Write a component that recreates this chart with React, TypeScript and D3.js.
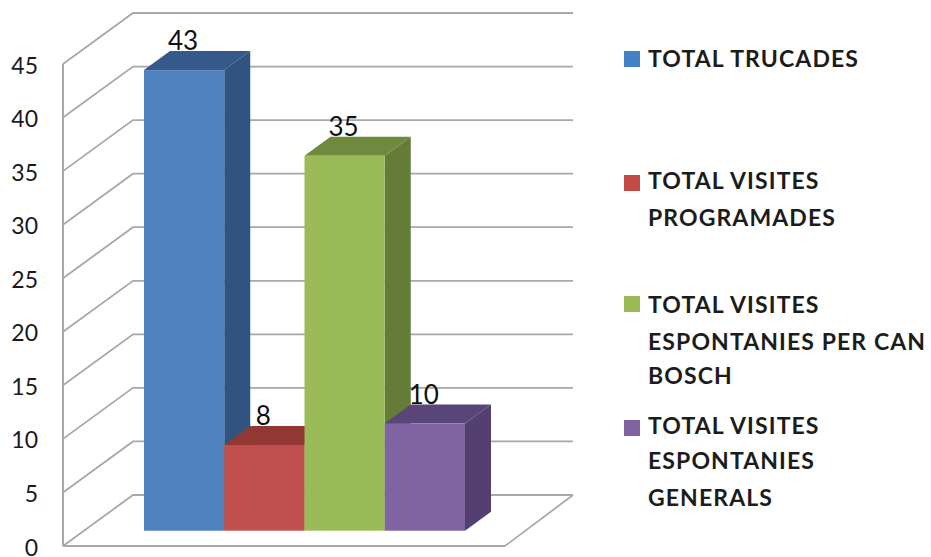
import React from "react";
import * as d3 from "d3";

// Visit counts per category
const categories = ["TOTAL TRUCADES", "TOTAL VISITES PROGRAMADES", "TOTAL VISITES ESPONTANIES PER CAN BOSCH", "TOTAL VISITES ESPONTANIES GENERALS"];
const values = [43, 8, 35, 10];
const ticks = [0, 5, 10, 15, 20, 25, 30, 35, 40, 45];
const legendLines = [
  ["TOTAL TRUCADES"],
  ["TOTAL VISITES", "PROGRAMADES"],
  ["TOTAL VISITES", "ESPONTANIES PER CAN", "BOSCH"],
  ["TOTAL VISITES", "ESPONTANIES", "GENERALS"],
];
const frontColors = ["#4f81bd", "#c0504d", "#9bbb59", "#8064a2"];
const darkColors = ["#35598a", "#923734", "#6f8a3e", "#5a4578"];
const sideColors = ["#30537f", "#8f3634", "#647c38", "#534070"];
const swatchColors = ["#4382c4", "#c44a48", "#9bbb59", "#8064a2"];

// Legend layout, one entry per category
const legendBaselines = [
  [67],
  [189, 226],
  [313, 350, 384],
  [434, 469, 506],
];
const swatchTops = [51, 175, 296, 420];

const FONT = "Lato, 'Open Sans', sans-serif";
const GRID = "#a8a8a8";

// Value scale on the front plane of the box; the rear wall is the same scale shifted by the depth.
const y = d3.scaleLinear().domain([0, 45]).range([546, 64]);
const wallDepth = { dx: 70, dy: -51 };
const wallRightBack = 573;
const floorRightFront = 505;

// Bars stand slightly inside the floor, so their baseline sits above the front edge.
const barBaseY = 530.7;
const barScale = d3.scaleLinear().domain([0, 45]).range([0, 482]);
const x = d3.scaleBand<string>().domain(categories).range([144, 465]);
const barDepth = { dx: 26, dy: -19 };

const poly = (pts: [number, number][]) => pts.map((p) => p.join(",")).join(" ");

export default function App() {
  return (
    <svg
      width={931}
      height={557}
      viewBox="0 0 931 557"
      style={{ position: "absolute", left: 0, top: 0, background: "#fff" }}
    >
      {/* Wall and floor grid */}
      {ticks.map((t) => {
        const y0 = y(t);
        const pts: [number, number][] = [
          [63, y0],
          [63 + wallDepth.dx, y0 + wallDepth.dy],
          [wallRightBack, y0 + wallDepth.dy],
        ];
        return <polyline key={t} points={poly(pts)} fill="none" stroke={GRID} strokeWidth={1.8} />;
      })}
      <line x1={63} x2={63} y1={y(45)} y2={y(0)} stroke={GRID} strokeWidth={2} />
      <line x1={63} x2={floorRightFront} y1={y(0)} y2={y(0)} stroke={GRID} strokeWidth={2} />
      <line
        x1={floorRightFront}
        y1={y(0)}
        x2={wallRightBack}
        y2={y(0) + wallDepth.dy}
        stroke={GRID}
        strokeWidth={1.8}
      />

      {/* Tick labels */}
      {ticks.map((t) => (
        <text
          key={t}
          x={38}
          y={y(t) + 9.5}
          textAnchor="end"
          fontFamily={FONT}
          fontSize={23}
          fill="#1a1a1a"
        >
          {t}
        </text>
      ))}

      {/* 3D bars */}
      {categories.map((c, i) => {
        const x0 = x(c)!;
        const x1 = x0 + x.bandwidth();
        const top = barBaseY - barScale(values[i]);
        const { dx, dy } = barDepth;
        return (
          <g key={c}>
            <polygon
              points={poly([
                [x1, top],
                [x1 + dx, top + dy],
                [x1 + dx, barBaseY + dy],
                [x1, barBaseY],
              ])}
              fill={sideColors[i]}
            />
            <polygon
              points={poly([
                [x0, top],
                [x0 + dx, top + dy],
                [x1 + dx, top + dy],
                [x1, top],
              ])}
              fill={darkColors[i]}
            />
            <rect x={x0} y={top} width={x.bandwidth()} height={barBaseY - top} fill={frontColors[i]} />
          </g>
        );
      })}

      {/* Value labels */}
      {categories.map((c, i) => (
        <text
          key={c}
          x={x(c)! + x.bandwidth() / 2 - 1}
          y={barBaseY - barScale(values[i]) + barDepth.dy - 1}
          textAnchor="middle"
          fontFamily={FONT}
          fontSize={26}
          fill="#111"
        >
          {values[i]}
        </text>
      ))}

      {/* Legend */}
      {categories.map((c, i) => (
        <g key={c}>
          <rect x={624} y={swatchTops[i]} width={16} height={16} fill={swatchColors[i]} />
          {legendLines[i].map((line, j) => (
            <text
              key={j}
              x={648}
              y={legendBaselines[i][j]}
              fontFamily={FONT}
              fontSize={23}
              fontWeight={700}
              letterSpacing={1.1}
              fill="#1c1c1c"
            >
              {line}
            </text>
          ))}
        </g>
      ))}
    </svg>
  );
}
